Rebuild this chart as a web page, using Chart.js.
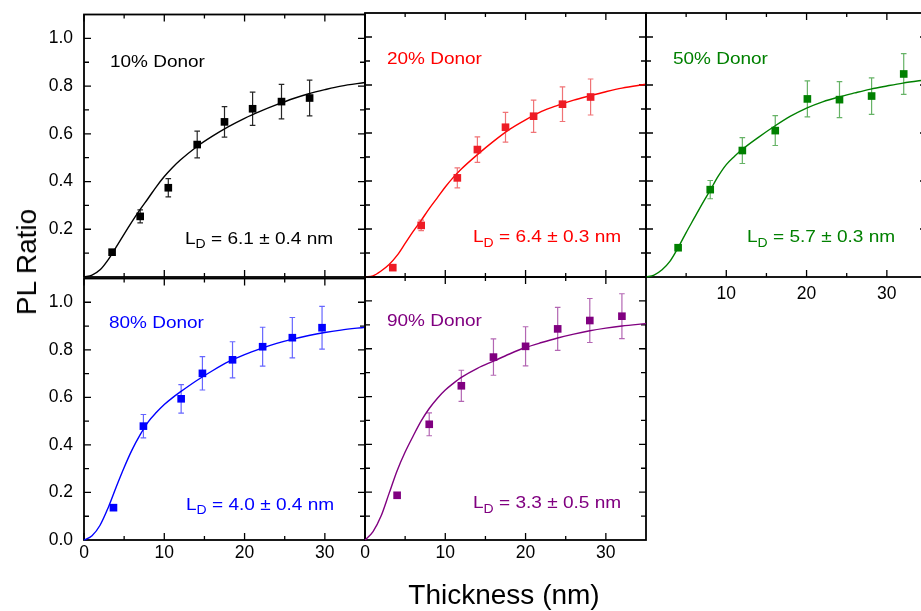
<!DOCTYPE html>
<html>
<head>
<meta charset="utf-8">
<script src="https://cdn.jsdelivr.net/npm/chart.js@4.4.1/dist/chart.umd.min.js"></script>
<style>
  html, body { margin: 0; padding: 0; background: #fff; overflow: hidden; }
  #wrap { position: relative; width: 921px; height: 611px; overflow: hidden; background: #fff; }
  #wrap canvas { position: absolute; }
  .axis-title {
    position: absolute;
    font-family: "Liberation Sans", Arial, sans-serif;
    font-size: 28px;
    line-height: 1;
    color: #000;
    white-space: nowrap;
  }
  #xTitle { left: 504px; top: 595px; transform: translate(-50%, -50%); }
  #yTitle { left: 27px; top: 262px; transform: translate(-50%, -50%) rotate(-90deg); }
</style>
</head>
<body>
<div id="wrap">
  <canvas id="p10"></canvas>
  <canvas id="p20"></canvas>
  <canvas id="p50"></canvas>
  <canvas id="p80"></canvas>
  <canvas id="p90"></canvas>
  <div class="axis-title" id="xTitle">Thickness (nm)</div>
  <div class="axis-title" id="yTitle">PL Ratio</div>
</div>
<script>
// ---- measured data ----
const panelNames = ['10% Donor', '20% Donor', '50% Donor', '80% Donor', '90% Donor'];
const diffusionLength = [6.1, 6.4, 5.7, 4.0, 3.3];
const diffusionLengthErr = [0.4, 0.3, 0.3, 0.4, 0.5];

// thickness (nm), PL ratio and its error for each blend
const thick10 = [3.5, 7.0, 10.5, 14.1, 17.5, 21.0, 24.6, 28.1];
const ratio10 = [0.104, 0.254, 0.374, 0.555, 0.650, 0.705, 0.735, 0.750];
const err10   = [0.008, 0.027, 0.038, 0.056, 0.064, 0.070, 0.072, 0.075];

const thick20 = [3.46, 7.0, 11.5, 14.0, 17.5, 21.0, 24.6, 28.1];
const ratio20 = [0.039, 0.215, 0.413, 0.531, 0.624, 0.670, 0.720, 0.750];
const err20   = [0.006, 0.022, 0.042, 0.053, 0.062, 0.067, 0.072, 0.075];

const thick50 = [4.0, 8.0, 12.0, 16.1, 20.1, 24.1, 28.1, 32.1];
const ratio50 = [0.122, 0.364, 0.527, 0.610, 0.742, 0.739, 0.754, 0.846];
const err50   = [0.006, 0.038, 0.054, 0.062, 0.075, 0.075, 0.076, 0.085];

const thick80 = [3.67, 7.4, 12.1, 14.75, 18.5, 22.25, 25.95, 29.65];
const ratio80 = [0.136, 0.479, 0.594, 0.701, 0.758, 0.813, 0.851, 0.893];
const err80   = [0.006, 0.049, 0.060, 0.070, 0.076, 0.082, 0.085, 0.090];

const thick90 = [4.0, 8.0, 12.0, 16.0, 20.0, 24.0, 28.0, 32.0];
const ratio90 = [0.187, 0.484, 0.645, 0.765, 0.810, 0.883, 0.918, 0.936];
const err90   = [0.010, 0.048, 0.065, 0.076, 0.082, 0.090, 0.092, 0.094];

// diffusion-model fit curves
const fitThick = [0, 1, 2, 3, 4, 5, 6, 7, 8, 9, 10, 11, 12, 14, 16, 18, 20, 22, 24, 26, 28, 30, 32, 35];
const fit10 = [0, 0.008, 0.030, 0.072, 0.125, 0.180, 0.233, 0.283, 0.330, 0.378, 0.421, 0.458, 0.490, 0.545, 0.590, 0.630, 0.665, 0.695, 0.722, 0.747, 0.768, 0.785, 0.800, 0.815];
const fit20 = [0, 0.005, 0.025, 0.052, 0.090, 0.140, 0.190, 0.236, 0.285, 0.330, 0.375, 0.415, 0.450, 0.510, 0.565, 0.615, 0.655, 0.690, 0.715, 0.737, 0.755, 0.772, 0.787, 0.803];
const fit50 = [0, 0.008, 0.030, 0.066, 0.122, 0.185, 0.245, 0.305, 0.362, 0.420, 0.468, 0.502, 0.532, 0.582, 0.628, 0.670, 0.704, 0.730, 0.750, 0.767, 0.783, 0.796, 0.808, 0.822];
const fit80 = [0, 0.018, 0.062, 0.135, 0.222, 0.305, 0.380, 0.443, 0.497, 0.536, 0.570, 0.598, 0.623, 0.670, 0.712, 0.750, 0.780, 0.805, 0.827, 0.845, 0.860, 0.873, 0.883, 0.895];
const fit90 = [0, 0.035, 0.100, 0.195, 0.290, 0.368, 0.435, 0.498, 0.550, 0.592, 0.627, 0.655, 0.680, 0.718, 0.748, 0.778, 0.805, 0.826, 0.845, 0.861, 0.875, 0.886, 0.895, 0.905];

// axis ticks
const xMajorTicks = [0, 10, 20, 30];
const xMinorTicks = [5, 15, 25];
const yMajorTicks = [0.2, 0.4, 0.6, 0.8, 1.0];
const yMinorTicks = [0.1, 0.3, 0.5, 0.7, 0.9];

// ---- layout / style ----
const FONT = '"Liberation Sans", Arial, sans-serif';
const TICK_FONT_SIZE = 17.5;
const PAD_L = 60, PAD_T = 20, PAD_R = 12, PAD_B = 40, AREA_W = 281;

const panels = [
  { id: 'p10', left: 84,  top: 13,  h: 264, color: '#000000', point: '#000000', err: 'rgba(0,0,0,0.85)',
    x: thick10, y: ratio10, e: err10, fit: fit10, showX: false, showY: true, hideZeroY: true, hideZeroX: false, xPad: 3,
    nameAt: [26, 52], ldAt: [101, 229] },
  { id: 'p20', left: 365, top: 13,  h: 264, color: '#ff0000', point: '#ee1c25', err: 'rgba(232,40,45,0.65)',
    x: thick20, y: ratio20, e: err20, fit: fit20, showX: false, showY: false, xPad: 3,
    nameAt: [22, 51], ldAt: [108, 229] },
  { id: 'p50', left: 646, top: 13,  h: 264, color: '#008000', point: '#008000', err: 'rgba(0,128,0,0.6)',
    x: thick50, y: ratio50, e: err50, fit: fit50, showX: true, showY: false, hideZeroX: true, xPad: 7,
    nameAt: [27, 51], ldAt: [101, 229] },
  { id: 'p80', left: 84,  top: 277, h: 263, color: '#0000ff', point: '#0000ff', err: 'rgba(0,0,255,0.6)',
    x: thick80, y: ratio80, e: err80, fit: fit80, showX: true, showY: true, xPad: 3,
    nameAt: [25, 49], ldAt: [102, 231] },
  { id: 'p90', left: 365, top: 277, h: 263, color: '#800080', point: '#800080', err: 'rgba(128,0,128,0.6)',
    x: thick90, y: ratio90, e: err90, fit: fit90, showX: true, showY: false, xPad: 3,
    nameAt: [22, 49], ldAt: [108, 231] }
];

// frame with inward ticks on all four sides
const framePlugin = {
  id: 'frame',
  beforeDatasetsDraw(chart) {
    const { ctx, chartArea: a, scales: { x, y } } = chart;
    ctx.save();
    ctx.strokeStyle = '#000';
    ctx.lineWidth = 1.3;
    ctx.beginPath();
    const xt = (v, len) => {
      const px = x.getPixelForValue(v);
      ctx.moveTo(px, a.bottom); ctx.lineTo(px, a.bottom - len);
      ctx.moveTo(px, a.top); ctx.lineTo(px, a.top + len);
    };
    const yt = (v, len) => {
      const py = y.getPixelForValue(v);
      ctx.moveTo(a.left, py); ctx.lineTo(a.left + len, py);
      ctx.moveTo(a.right, py); ctx.lineTo(a.right - len, py);
    };
    xMajorTicks.forEach(v => xt(v, 7));
    xMinorTicks.forEach(v => xt(v, 4));
    yMajorTicks.forEach(v => yt(v, 7));
    yMinorTicks.forEach(v => yt(v, 5));
    ctx.stroke();
    ctx.lineWidth = 1.8;
    ctx.strokeRect(a.left, a.top, a.right - a.left, a.bottom - a.top);
    ctx.restore();
  }
};

// vertical error bars with caps, drawn just beneath the markers
const errorBarPlugin = {
  id: 'errorBars',
  beforeDatasetDraw(chart, args) {
    const ds = chart.data.datasets[args.index];
    if (!ds.errors) return;
    const { ctx, scales: { x, y } } = chart;
    ctx.save();
    ctx.strokeStyle = ds.errorColor;
    ctx.lineWidth = 1.2;
    ctx.beginPath();
    ds.data.forEach((pt, i) => {
      const px = x.getPixelForValue(pt.x);
      const top = y.getPixelForValue(pt.y + ds.errors[i]);
      const bot = y.getPixelForValue(pt.y - ds.errors[i]);
      ctx.moveTo(px, top); ctx.lineTo(px, bot);
      ctx.moveTo(px - 2.8, top); ctx.lineTo(px + 2.8, top);
      ctx.moveTo(px - 2.8, bot); ctx.lineTo(px + 2.8, bot);
    });
    ctx.stroke();
    ctx.restore();
  }
};

// blend name and fitted diffusion length inside each panel
const textPlugin = {
  id: 'panelText',
  afterDatasetsDraw(chart, args, opts) {
    const { ctx, chartArea: a } = chart;
    const sx = 1.12;
    ctx.save();
    ctx.fillStyle = opts.color;
    ctx.textBaseline = 'alphabetic';
    ctx.textAlign = 'left';

    // blend name
    ctx.save();
    ctx.translate(a.left + opts.nameAt[0], a.top + opts.nameAt[1]);
    ctx.scale(1.15, 1);
    ctx.font = '16.5px ' + FONT;
    ctx.fillText(opts.name, 0, 0);
    ctx.restore();

    // L_D = value ± error nm
    ctx.save();
    ctx.translate(a.left + opts.ldAt[0], a.top + opts.ldAt[1]);
    ctx.scale(sx, 1);
    ctx.font = '17px ' + FONT;
    ctx.fillText('L', 0, 0);
    let w = ctx.measureText('L').width;
    ctx.font = '12.5px ' + FONT;
    ctx.fillText('D', w, 4.5);
    w += ctx.measureText('D').width;
    ctx.font = '17px ' + FONT;
    ctx.fillText(' = ' + opts.ld.toFixed(1) + ' \u00B1 ' + opts.ldErr.toFixed(1) + ' nm', w, 0);
    ctx.restore();

    ctx.restore();
  }
};

panels.forEach((p, k) => {
  const cv = document.getElementById(p.id);
  const w = AREA_W + PAD_L + PAD_R;
  const h = p.h + PAD_T + PAD_B;
  cv.width = w; cv.height = h;
  cv.style.left = (p.left - PAD_L) + 'px';
  cv.style.top = (p.top - PAD_T) + 'px';
  cv.style.width = w + 'px';
  cv.style.height = h + 'px';

  new Chart(cv, {
    type: 'line',
    data: {
      datasets: [
        {
          data: fitThick.map((t, i) => ({ x: t, y: p.fit[i] })),
          borderColor: p.color,
          borderWidth: 1.4,
          pointRadius: 0,
          fill: false,
          cubicInterpolationMode: 'monotone',
          clip: false,
          order: 2
        },
        {
          data: p.x.map((t, i) => ({ x: t, y: p.y[i] })),
          errors: p.e,
          errorColor: p.err,
          showLine: false,
          pointStyle: 'rect',
          pointRadius: 5.4,
          pointBackgroundColor: p.point,
          pointBorderColor: p.point,
          pointBorderWidth: 0,
          clip: false,
          order: 1
        }
      ]
    },
    options: {
      responsive: false,
      maintainAspectRatio: false,
      animation: false,
      devicePixelRatio: 1,
      events: [],
      layout: { padding: { left: 0, top: PAD_T, right: PAD_R, bottom: 0 } },
      plugins: {
        legend: { display: false },
        tooltip: { enabled: false },
        panelText: {
          color: p.color,
          name: panelNames[k],
          ld: diffusionLength[k],
          ldErr: diffusionLengthErr[k],
          nameAt: p.nameAt,
          ldAt: p.ldAt
        }
      },
      scales: {
        x: {
          type: 'linear',
          min: 0, max: 35,
          grid: { display: false, drawTicks: false },
          border: { display: false },
          ticks: {
            display: p.showX,
            stepSize: 10,
            includeBounds: false,
            padding: p.xPad,
            maxRotation: 0,
            color: '#000',
            font: { family: FONT, size: TICK_FONT_SIZE },
            callback: v => (p.hideZeroX && v === 0) ? '' : String(v)
          },
          afterFit: s => { s.height = PAD_B; }
        },
        y: {
          type: 'linear',
          min: 0, max: 1.1,
          grid: { display: false, drawTicks: false },
          border: { display: false },
          ticks: {
            display: p.showY,
            stepSize: 0.2,
            includeBounds: false,
            padding: 11,
            color: '#000',
            font: { family: FONT, size: TICK_FONT_SIZE },
            callback: v => (p.hideZeroY && Math.abs(v) < 1e-9) ? '' : Number(v).toFixed(1)
          },
          afterFit: s => { s.width = PAD_L; }
        }
      }
    },
    plugins: [framePlugin, errorBarPlugin, textPlugin]
  });
});
</script>
</body>
</html>
